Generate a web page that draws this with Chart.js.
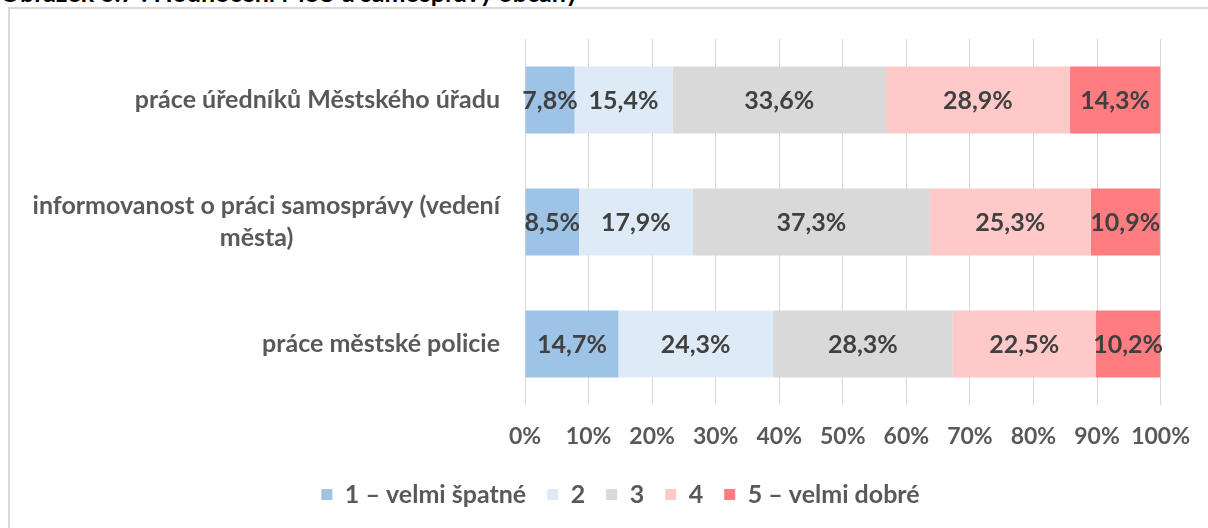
<!DOCTYPE html>
<html>
<head>
<meta charset="utf-8">
<script src="https://cdn.jsdelivr.net/npm/chart.js@4"></script>
<style>
body { margin: 0; width: 1208px; height: 528px; overflow: hidden; background: #fff; position: relative; }
#title { position: absolute; left: 0; top: -23px; font: bold 25px Lato, sans-serif; color: #000; white-space: nowrap; }
#frame { position: absolute; left: 8px; top: 7px; width: 1300px; height: 600px; border: 2px solid #d9d9d9; }
#wrap { position: absolute; left: 0; top: 0; width: 1208px; height: 528px; }
</style>
</head>
<body>
<div id="title">Obrázek 6.7 : Hodnocení MěÚ a samosprávy občany</div>
<div id="frame"></div>
<div id="wrap"><canvas id="chart"></canvas></div>
<script>
const FONT = 'Lato';
const FONT_SIZE = 25;

const categories = [
    "práce úředníků Městského úřadu",
    ["informovanost o práci samosprávy (vedení", "města)"],
    "práce městské policie"
];
const seriesNames = ["1 – velmi špatné", "2", "3", "4", "5 – velmi dobré"];
const seriesColors = ["#9DC3E6", "#DEEBF7", "#D9D9D9", "#FFC9C9", "#FF7C80"];

const velmiSpatne = [7.8, 8.5, 14.7];
const dva = [15.4, 17.9, 24.3];
const tri = [33.6, 37.3, 28.3];
const ctyri = [28.9, 25.3, 22.5];
const velmiDobre = [14.3, 10.9, 10.2];
const seriesValues = [velmiSpatne, dva, tri, ctyri, velmiDobre];

const xTicks = [0, 10, 20, 30, 40, 50, 60, 70, 80, 90, 100];

// druhy radek popisku vycentrovat pod prvni (osa je zarovnana doprava)
const mctx = document.createElement("canvas").getContext("2d");
mctx.font = "bold " + FONT_SIZE + "px " + FONT;
function centerLines(lines) {
    const w1 = mctx.measureText(lines[0]).width;
    const w2 = mctx.measureText(lines[1]).width;
    const sp = mctx.measureText(" ").width;
    const n = Math.round((w1 - w2) / 2 / sp) + 2;
    return [lines[0], lines[1] + " ".repeat(n)];
}
const yLabels = categories.map(c => Array.isArray(c) ? centerLines(c) : c);

// popisky hodnot uprostred segmentu
const valueLabels = {
    id: "valueLabels",
    afterDatasetsDraw(chart) {
        const ctx = chart.ctx;
        ctx.save();
        ctx.font = "bold " + FONT_SIZE + "px " + FONT;
        ctx.fillStyle = "#404040";
        ctx.textAlign = "center";
        ctx.textBaseline = "middle";
        chart.data.datasets.forEach((ds, i) => {
            chart.getDatasetMeta(i).data.forEach((bar, j) => {
                const txt = ds.data[j].toFixed(1).replace(".", ",") + "%";
                ctx.fillText(txt, (bar.x + bar.base) / 2, bar.y + 1);
            });
        });
        ctx.restore();
    }
};

// legenda je v originale posunuta doprava (na stred plochy grafu)
const legendShift = {
    id: "legendShift",
    afterLayout(chart) {
        if (chart.legend) {
            chart.legend.left += 30;
            chart.legend.right += 30;
        }
    }
};

new Chart(document.getElementById("chart"), {
    type: "bar",
    data: {
        labels: yLabels,
        datasets: seriesNames.map((name, i) => ({
            label: name,
            data: seriesValues[i],
            backgroundColor: seriesColors[i],
            borderWidth: 0,
            categoryPercentage: 1,
            barPercentage: 0.55
        }))
    },
    options: {
        indexAxis: "y",
        responsive: true,
        maintainAspectRatio: false,
        animation: false,
        layout: { padding: { left: 20, top: 39, right: 47, bottom: 11 } },
        scales: {
            x: {
                stacked: true,
                min: 0,
                max: 100,
                afterBuildTicks: axis => { axis.ticks = xTicks.map(v => ({ value: v })); },
                afterFit: axis => { axis.height = 56; },
                grid: { color: "#d9d9d9", drawTicks: false },
                border: { display: false },
                ticks: {
                    padding: 18,
                    maxRotation: 0,
                    minRotation: 0,
                    autoSkip: false,
                    color: "#595959",
                    font: { family: FONT, size: 23, weight: "bold" },
                    callback: v => v + "%"
                }
            },
            y: {
                stacked: true,
                afterFit: axis => { axis.width = 505; },
                grid: { display: false },
                border: { display: false },
                ticks: {
                    padding: 17,
                    color: "#595959",
                    font: { family: FONT, size: FONT_SIZE, weight: "bold", lineHeight: 1.3 }
                }
            }
        },
        plugins: {
            tooltip: { enabled: false },
            legend: {
                position: "bottom",
                labels: {
                    boxWidth: 11,
                    boxHeight: 11,
                    padding: 21,
                    color: "#595959",
                    font: { family: FONT, size: FONT_SIZE, weight: "bold" }
                }
            }
        }
    },
    plugins: [valueLabels, legendShift]
});
</script>
</body>
</html>
